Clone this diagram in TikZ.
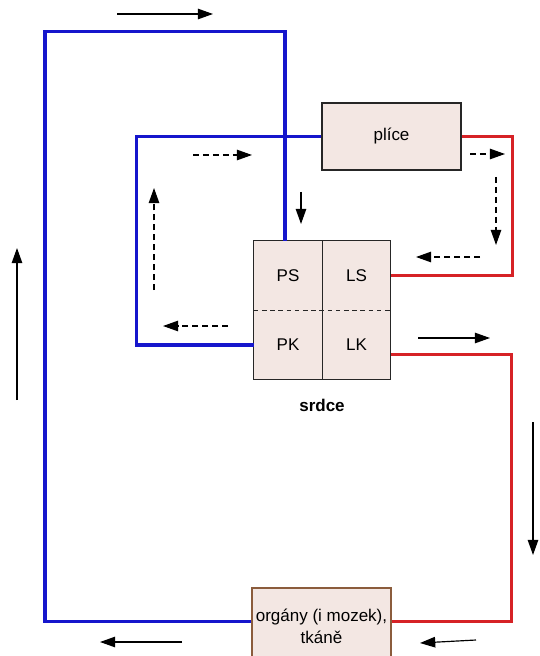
\documentclass[tikz,border=0pt]{standalone}
\usepackage{fontspec}
\setmainfont{Liberation Sans}
\usetikzlibrary{arrows.meta,positioning,calc}
\definecolor{veinblue}{RGB}{22,22,204}
\definecolor{arteryred}{RGB}{214,34,38}
\definecolor{tissuefill}{RGB}{243,231,227}
\definecolor{organedge}{RGB}{139,92,60}
\tikzset{
  organbox/.style={draw=black!85,line width=1pt,fill=tissuefill,minimum width=4.17cm,minimum height=2.01cm,font=\fontsize{14.5}{19}\selectfont},
  chamber/.style={fill=tissuefill,minimum width=2.04cm,minimum height=2.07cm,inner sep=0pt,font=\fontsize{14.5}{17}\selectfont},
  blueline/.style={draw=veinblue,line width=2.8pt},
  redline/.style={draw=arteryred,line width=2.8pt},
  flow/.style={draw=black,line width=1pt,-{Triangle[length=13pt,width=9pt]}},
  dflow/.style={flow,dash pattern=on 5pt off 3.5pt}
}
\begin{document}
\begin{tikzpicture}[x=0.03cm,y=-0.03cm]
\useasboundingbox (0,0) rectangle (539,656);
% boxes
\node[organbox] (plice) at (391.5,136.5) {plíce};
\node[organbox,draw=organedge,minimum height=2.31cm,align=center] (organy) at (321.5,626.5) {orgány (i mozek),\\tkáně};
% heart chambers
\node[chamber] (PS) at (288,275.5) {PS};
\node[chamber,right=0pt of PS] (LS) {LS};
\node[chamber,below=0pt of PS] (PK) {PK};
\node[chamber,right=0pt of PK] (LK) {LK};
\draw[line width=1pt,black!85] (PS.north west) rectangle (LK.south east);
\draw[line width=0.8pt,black!85] (PS.north east) -- (PK.south east);
\draw[line width=0.8pt,black!85,dash pattern=on 4pt off 3pt] (PS.south west) -- (LS.south east);
\node[font=\bfseries\fontsize{14.5}{17}\selectfont] (srdce) at (322,405) {srdce};
% vessels
\draw[blueline] ([xshift=-0.09cm]PS.north) -- ++(0,-209) -| ++(-240,0) |- ([yshift=0.16cm]organy.west);
\draw[blueline] (PK.west) -- ++(-117,0) |- (plice.west);
\draw[redline] (plice.east) -- ++(51,0) |- (LS.east);
\draw[redline] ([yshift=-0.28cm]LK.east) -- ++(121,0) |- ([yshift=0.16cm]organy.east);
% body circulation
\draw[flow] (117,14) -- (213,14);
\draw[flow] (301,192) -- (301,224);
\draw[flow] (418,338) -- (490,338);
\draw[flow] (533,422) -- (533,555);
\draw[flow] (476,640) -- (420,643);
\draw[flow] (182,642) -- (100,642);
\draw[flow] (17,400) -- (17,248);
% lung circulation
\draw[dflow] (193,155) -- (252,155);
\draw[dflow] (470,154) -- (505,154);
\draw[dflow] (496,177) -- (496,245);
\draw[dflow] (480,257) -- (416,257);
\draw[dflow] (154,290) -- (154,188);
\draw[dflow] (228,326) -- (163,326);
\end{tikzpicture}
\end{document}
